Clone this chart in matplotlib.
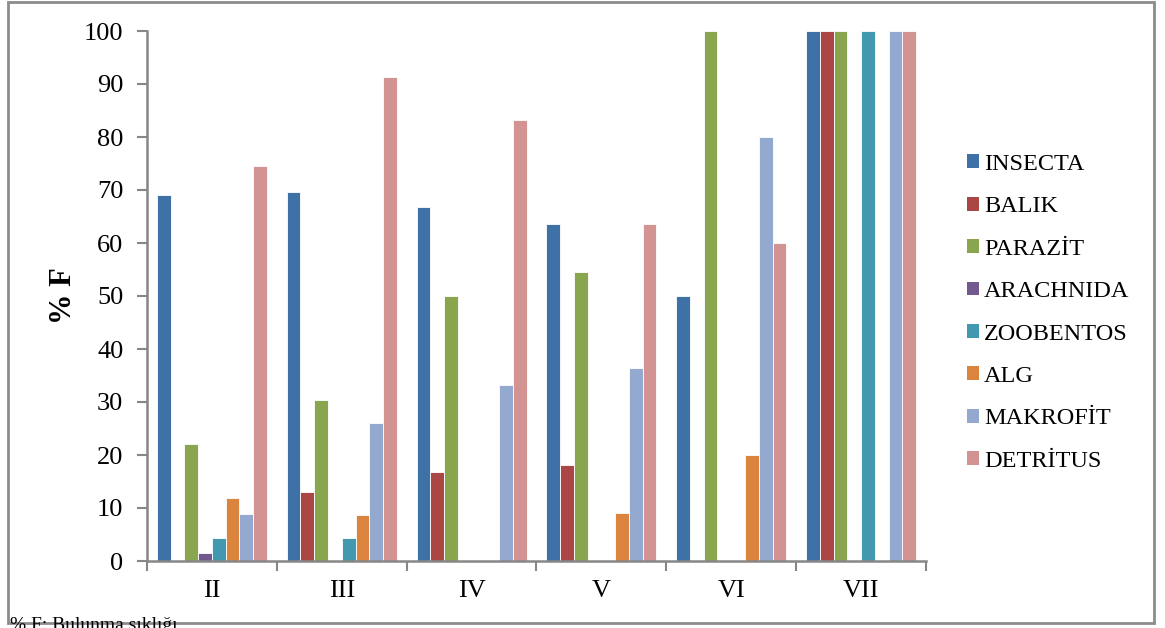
import numpy as np
import matplotlib
matplotlib.use('Agg')
import matplotlib.pyplot as plt
from matplotlib.patches import Rectangle, Patch

plt.rcParams['font.family'] = ['Liberation Serif', 'DejaVu Serif']

groups = ['II', 'III', 'IV', 'V', 'VI', 'VII']
series = ['INSECTA', 'BALIK', 'PARAZİT', 'ARACHNIDA', 'ZOOBENTOS', 'ALG', 'MAKROFİT', 'DETRİTUS']
colors = ['#3E72A6', '#AA4643', '#89A54E', '#71588F', '#4198AF', '#DB843D', '#93A9CF', '#D39392']

insecta   = [69.1, 69.6, 66.7, 63.6, 50.0, 100]
balik     = [0,    13.0, 16.7, 18.2, 0,    100]
parazit   = [22.1, 30.4, 50.0, 54.5, 100,  100]
arachnida = [1.5,  0,    0,    0,    0,    0]
zoobentos = [4.4,  4.3,  0,    0,    0,    100]
alg       = [11.8, 8.7,  0,    9.1,  20.0, 0]
makrofit  = [8.8,  26.1, 33.3, 36.4, 80.0, 100]
detritus  = [74.6, 91.3, 83.3, 63.6, 60.0, 100]
values = [insecta, balik, parazit, arachnida, zoobentos, alg, makrofit, detritus]

W, H = 1165, 628
fig = plt.figure(figsize=(W / 100, H / 100), dpi=100)
ax = fig.add_axes([147 / W, 1 - 561 / H, (926 - 147) / W, (561 - 31) / H])

x = np.arange(len(groups))
bw = 0.106
for i, (name, vals) in enumerate(zip(series, values)):
    off = (i - 3.5) * bw
    ax.bar(x + off, vals, width=bw, color=colors[i], edgecolor='white',
           linewidth=0.6, label=name, zorder=2)

ax.set_xlim(-0.5, len(groups) - 0.5)
ax.set_ylim(0, 100)
ax.set_yticks(range(0, 101, 10))
# group borders get the tick marks, group names sit between them
ax.set_xticks(np.arange(-0.5, len(groups), 1.0))
ax.set_xticklabels([])
ax.set_xticks(x, minor=True)
ax.set_xticklabels(groups, minor=True)
ax.tick_params(axis='x', which='minor', length=0, pad=14, labelsize=19)
ax.tick_params(axis='x', which='major', length=7, width=1.5, color='#878787')
ax.tick_params(axis='y', length=7, width=1.5, color='#878787', labelsize=19, pad=10)
for s in ['top', 'right']:
    ax.spines[s].set_visible(False)
for s in ['left', 'bottom']:
    ax.spines[s].set_color('#878787')
    ax.spines[s].set_linewidth(1.8)
ax.set_ylabel('% F', fontsize=22, fontweight='bold', labelpad=4)

handles = [Patch(facecolor=c, edgecolor='none') for c in colors]
fig.legend(handles, series, loc='upper left', bbox_to_anchor=(950 / W, 1 - 137 / H),
           frameon=False, fontsize=17.5, handlelength=0.5, handleheight=0.5,
           handletextpad=0.2, labelspacing=0.88, borderpad=0.2)

fig.patches.append(Rectangle((8 / W, 1 - 623 / H), (1154 - 8) / W, (623 - 2) / H,
                             transform=fig.transFigure, fill=False,
                             edgecolor='#8c8c8c', linewidth=2))
fig.text(10 / W, -6 / H, '% F: Bulunma sıklığı', fontsize=14, va='bottom', ha='left')

fig.savefig('out.png', dpi=100)
